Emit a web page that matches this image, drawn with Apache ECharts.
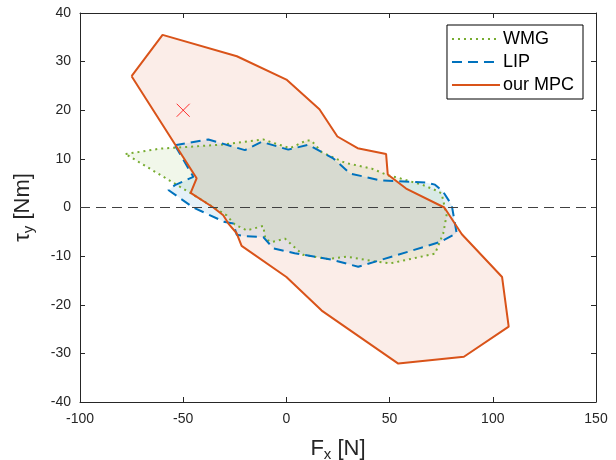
<!DOCTYPE html>
<html>
<head>
<meta charset="utf-8">
<script src="https://cdn.jsdelivr.net/npm/echarts@6/dist/echarts.min.js"></script>
<style>
  html, body { margin: 0; padding: 0; background: #fff; }
  #myChart { width: 616px; height: 460px; }
</style>
</head>
<body>
<div id="myChart"></div>
<script>
// polygon vertices [Fx, tau_y]
var wmgPts = [[-77.9, 11], [-61.2, 12.1], [-32.2, 12.9], [-11.2, 14], [-7.1, 13.4], [1.7, 12.2], [9.8, 13.8],
	[12, 13.8], [17.1, 11.4], [28.4, 9.2], [41.3, 8], [49.4, 6.6], [55, 6], [66.3, 4.6], [72, 3.6],
	[75.2, 2.9], [77.6, -1.6], [76, -5.3], [72, -9.5], [50.2, -11.5], [44.5, -11.2], [29.2, -10.1],
	[20, -10.6], [8, -9.7], [-0.7, -6.4], [-7.1, -7.1], [-10.2, -6.5], [-11.2, -3.8], [-19.2, -4.7],
	[-25, -3.5], [-29, -1.6], [-43.5, 2.2]];
var lipPts = [[-54, 12.8], [-37.8, 14], [-20.1, 11.8], [-12, 13.5], [0.9, 11.9], [10.6, 12.9], [22.7, 10.1],
	[30.8, 7], [45.3, 5.6], [68, 5.1], [72, 4.7], [76, 3.2], [80.1, 0.5], [82.5, -5.3], [74.4, -7.1],
	[34.8, -12.2], [22.7, -10.8], [4, -9.4], [-6.3, -8.4], [-11.2, -6.1], [-20.1, -5.9], [-24.1, -5.6],
	[-25.7, -3.3], [-29.8, -3], [-45.1, 0], [-57.2, 3.6], [-54, 4.6], [-45.1, 6.3]];
var mpcPts = [[-75, 27], [-60, 35.5], [-24, 31.1], [0, 26.3], [16, 20.2], [24.7, 14.6], [34.5, 12.2],
	[48.3, 11], [49.1, 6.8], [58, 3.9], [76.5, 0], [85, -5.5], [104.5, -14.3], [107.7, -24.5],
	[86, -30.7], [54.2, -32.1], [17.1, -21.2], [0, -14.3], [-21.7, -7.9], [-24.1, -5.3], [-28.1, -3.3],
	[-30.6, -1.6], [-35.4, 0], [-46.4, 3], [-43.5, 6]];
var targetPt = [[-50, 20]];
var names = ['WMG', 'LIP', 'our MPC'];

var myChart = echarts.init(document.getElementById('myChart'));

function closed(pts) { return pts.concat([pts[0]]); }

function fillSeries(pts, color) {
	return {
		type: 'custom',
		silent: true,
		data: pts,
		encode: { x: 0, y: 1 },
		renderItem: function (params, api) {
			if (params.dataIndex !== 0) return;
			var p = pts.map(function (d) { return api.coord(d); });
			return { type: 'polygon', shape: { points: p }, style: { fill: color } };
		}
	};
}

function edgeSeries(name, pts, color, type, width) {
	return {
		name: name,
		type: 'line',
		data: closed(pts),
		symbol: 'none',
		silent: true,
		color: color,
		lineStyle: { color: color, type: type, width: width }
	};
}

var axisCommon = {
	type: 'value',
	splitLine: { show: false },
	axisLine: { show: true, onZero: false, lineStyle: { color: '#262626', width: 1 } },
	axisTick: { show: true, inside: true, length: 5, lineStyle: { color: '#262626' } }
};

var nameRich = {
	a: { fontSize: 22, color: '#262626', fontFamily: 'Liberation Sans' },
	b: { fontSize: 15, color: '#262626', fontFamily: 'Liberation Sans', padding: [12, 0, 0, 0] }
};

var mpcEdge = edgeSeries(names[2], mpcPts, '#D95319', 'solid', 2);
mpcEdge.markLine = {
	silent: true,
	symbol: 'none',
	label: { show: false },
	lineStyle: { color: '#404040', type: [10, 6], width: 1 },
	data: [{ yAxis: 0 }]
};

var option = {
	animation: false,
	textStyle: { fontFamily: 'Liberation Sans' },
	grid: { left: 80, right: 20, top: 13, bottom: 58, outerBoundsMode: 'none' },
	legend: {
		data: names,
		orient: 'vertical',
		right: 33,
		top: 25,
		itemWidth: 48,
		itemHeight: 14,
		itemGap: 5,
		padding: [5, 9, 5, 4],
		borderColor: '#000',
		borderWidth: 1,
		borderRadius: 0,
		backgroundColor: '#fff',
		itemStyle: { opacity: 0 },
		textStyle: { fontSize: 18, color: '#000', fontFamily: 'Liberation Sans', padding: [0, 0, 0, -2] }
	},
	xAxis: [
		Object.assign({}, axisCommon, {
			min: -100, max: 150, interval: 50, position: 'bottom',
			axisLabel: { fontSize: 14, color: '#262626', margin: 10 },
			name: '{a|F}{b|x}{a| [N]}',
			nameLocation: 'middle',
			nameGap: 33,
			nameTextStyle: { rich: nameRich }
		}),
		Object.assign({}, axisCommon, {
			min: -100, max: 150, interval: 50, position: 'top',
			axisLabel: { show: false }
		})
	],
	yAxis: [
		Object.assign({}, axisCommon, {
			min: -40, max: 40, interval: 10, position: 'left',
			axisLabel: { fontSize: 14, color: '#262626', margin: 9 },
			name: '{a|τ}{b|y}{a| [Nm]}',
			nameLocation: 'middle',
			nameGap: 44,
			nameTextStyle: { rich: nameRich }
		}),
		Object.assign({}, axisCommon, {
			min: -40, max: 40, interval: 10, position: 'right',
			axisLabel: { show: false }
		})
	],
	series: [
		fillSeries(wmgPts, 'rgba(119,172,48,0.1)'),
		fillSeries(lipPts, 'rgba(0,114,189,0.1)'),
		fillSeries(mpcPts, 'rgba(217,83,25,0.1)'),
		edgeSeries(names[0], wmgPts, '#77AC30', [2, 4], 2),
		edgeSeries(names[1], lipPts, '#0072BD', [10, 6], 2),
		mpcEdge,
		{
			type: 'scatter',
			data: targetPt,
			silent: true,
			symbol: 'path://M0,0L10,10M10,0L0,10',
			symbolSize: 13,
			itemStyle: { color: 'none', borderColor: '#FF0000', borderWidth: 1 }
		}
	]
};

myChart.setOption(option);
</script>
</body>
</html>
